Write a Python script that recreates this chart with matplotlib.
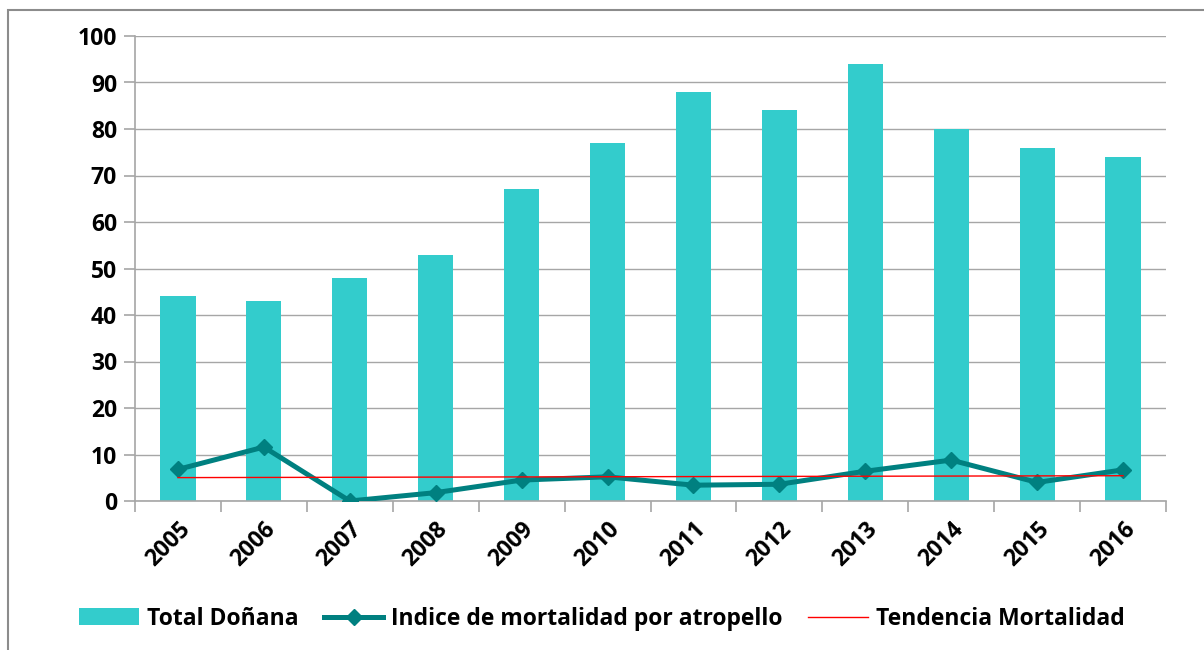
import numpy as np
import matplotlib.pyplot as plt
from matplotlib.lines import Line2D
from matplotlib.patches import Patch, Rectangle

# --- Data ---
years = ["2005", "2006", "2007", "2008", "2009", "2010",
         "2011", "2012", "2013", "2014", "2015", "2016"]
total_donana = [44, 43, 48, 53, 67, 77, 88, 84, 94, 80, 76, 74]
indice_mortalidad = [6.8, 11.6, 0.0, 1.8, 4.5, 5.2, 3.4, 3.6, 6.4, 8.8, 4.0, 6.7]

labels = ["Total Doñana", "Indice de mortalidad por atropello", "Tendencia Mortalidad"]

BAR_COLOR = "#33CCCC"
LINE_COLOR = "#008080"
TREND_COLOR = "#FF0000"
GRID_COLOR = "#A6A6A6"
FS = 16.5

plt.rcParams['font.family'] = ['Open Sans', 'DejaVu Sans']
plt.rcParams['font.weight'] = 'bold'

fig = plt.figure(figsize=(12.04, 6.5), dpi=100)
ax = fig.add_axes([135 / 1204, 149 / 650, (1166 - 135) / 1204, (501 - 36) / 650])

x = np.arange(len(years))
ax.bar(x, total_donana, width=0.41, color=BAR_COLOR, zorder=2)
ax.plot(x, indice_mortalidad, color=LINE_COLOR, lw=3.6, marker='D',
        markersize=8, zorder=3)

# linear trend of the index
coef = np.polyfit(x, indice_mortalidad, 1)
trend = np.polyval(coef, x)
ax.plot(x, trend, color=TREND_COLOR, lw=1.0, zorder=4)

ax.set_xlim(-0.5, len(years) - 0.5)
ax.set_ylim(0, 100)
ax.set_yticks(range(0, 101, 10))
ax.yaxis.grid(True, color=GRID_COLOR, lw=1.0, zorder=0)
ax.set_axisbelow(True)

for s in ['top', 'right']:
    ax.spines[s].set_visible(False)
for s in ['left', 'bottom']:
    ax.spines[s].set_color(GRID_COLOR)
    ax.spines[s].set_linewidth(1.2)

# tick marks between categories, labels at the centre
ax.set_xticks(np.arange(-0.5, len(years), 1.0))
ax.set_xticklabels([])
ax.set_xticks(x, minor=True)
ax.set_xticklabels(years, minor=True, rotation=45, ha='right', va='top',
                   rotation_mode='anchor', fontsize=FS, fontweight='bold')
ax.tick_params(axis='x', which='major', length=8, color=GRID_COLOR, width=1.2)
ax.tick_params(axis='x', which='minor', length=0, pad=12)
ax.tick_params(axis='y', length=8, color=GRID_COLOR, width=1.2, labelsize=FS, pad=5)
for t in ax.get_yticklabels():
    t.set_fontweight('bold')

handles = [
    Patch(facecolor=BAR_COLOR, edgecolor='none'),
    Line2D([], [], color=LINE_COLOR, lw=3.6, marker='D', markersize=8),
    Line2D([], [], color=TREND_COLOR, lw=1.0),
]
fig.legend(handles, labels, loc='center', bbox_to_anchor=(0.5, 0.048), ncol=3,
           frameon=False, prop={'size': FS, 'weight': 'bold'},
           handlelength=2.6, handleheight=0.75, handletextpad=0.35, columnspacing=1.1)

# chart area border
fig.patches.append(Rectangle((8 / 1204, -0.1), 1.2, 640 / 650 + 0.1,
                             transform=fig.transFigure, fill=False,
                             edgecolor='#8C8C8C', lw=1.5))

fig.savefig("out.png", dpi=100)
